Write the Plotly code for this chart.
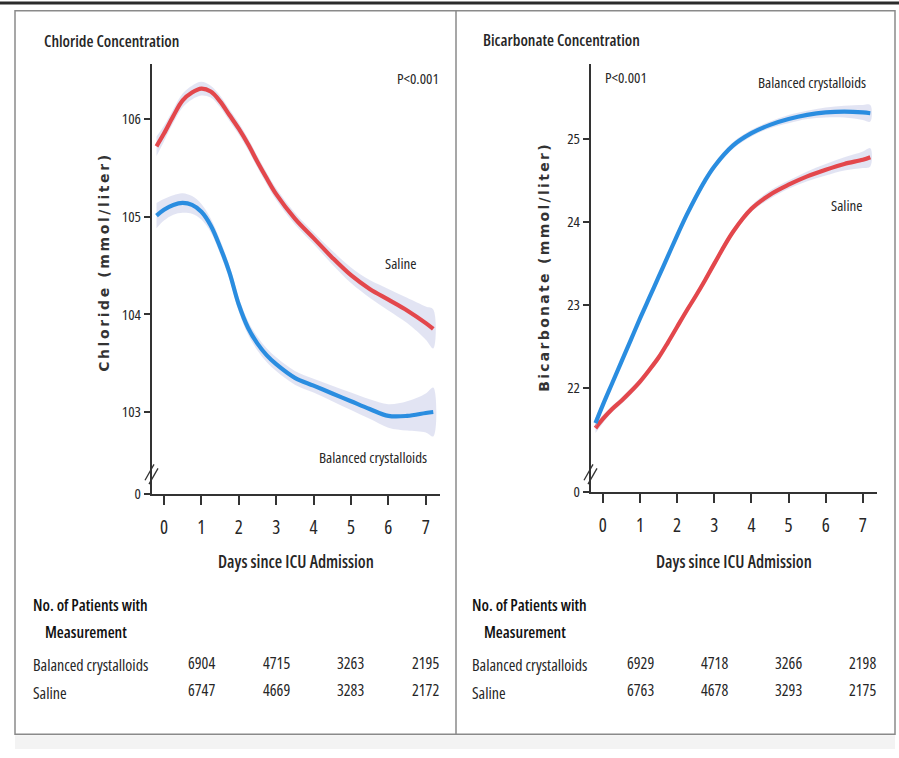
import plotly.graph_objects as go

# ---------------- data ----------------
days = [-0.2, 0, 0.25, 0.5, 0.75, 1.0, 1.25, 1.5, 1.75, 2.0, 2.25, 2.5, 2.75, 3.0, 3.5,
        4.0, 4.5, 5.0, 5.5, 6.0, 6.5, 7.0, 7.2]

chloride_saline = [105.72, 105.85, 106.03, 106.19, 106.27, 106.31, 106.28, 106.18,
                   106.04, 105.90, 105.74, 105.56, 105.39, 105.23, 104.98, 104.78, 104.58,
                   104.40, 104.26, 104.15, 104.04, 103.91, 103.85]
chloride_balanced = [105.01, 105.07, 105.12, 105.14, 105.12, 105.05, 104.91, 104.69,
                     104.43, 104.10, 103.86, 103.70, 103.58, 103.49, 103.35, 103.27, 103.19,
                     103.11, 103.03, 102.96, 102.96, 102.99, 103.00]
chloride_saline_ci = [0.10, 0.08, 0.07, 0.07, 0.07, 0.07, 0.06, 0.06, 0.06, 0.06, 0.06,
                      0.06, 0.06, 0.06, 0.06, 0.06, 0.07, 0.08, 0.09, 0.11, 0.13, 0.17,
                      0.20]
chloride_balanced_ci = [0.13, 0.11, 0.10, 0.10, 0.09, 0.08, 0.07, 0.07, 0.07, 0.07, 0.07,
                        0.07, 0.07, 0.07, 0.07, 0.07, 0.08, 0.09, 0.10, 0.12, 0.15, 0.20,
                        0.25]

bicarb_balanced = [21.58, 21.80, 22.06, 22.32, 22.58, 22.84, 23.09, 23.34, 23.59, 23.84,
                   24.08, 24.30, 24.50, 24.67, 24.92, 25.07, 25.17, 25.24, 25.29, 25.32,
                   25.33, 25.32, 25.31]
bicarb_saline = [21.52, 21.63, 21.75, 21.85, 21.96, 22.08, 22.22, 22.37, 22.55, 22.74,
                 22.93, 23.11, 23.30, 23.50, 23.88, 24.16, 24.33, 24.45, 24.55, 24.63,
                 24.70, 24.75, 24.78]
bicarb_balanced_ci = [0.06, 0.05, 0.04, 0.04, 0.04, 0.04, 0.04, 0.04, 0.04, 0.04, 0.04,
                      0.04, 0.04, 0.04, 0.04, 0.04, 0.04, 0.05, 0.05, 0.06, 0.07, 0.09,
                      0.10]
bicarb_saline_ci = [0.06, 0.05, 0.04, 0.04, 0.04, 0.04, 0.04, 0.04, 0.04, 0.04, 0.04,
                    0.04, 0.04, 0.04, 0.04, 0.04, 0.05, 0.05, 0.06, 0.07, 0.08, 0.10,
                    0.11]

x_ticks = [0, 1, 2, 3, 4, 5, 6, 7]
chloride_ticks = [103, 104, 105, 106]
bicarb_ticks = [22, 23, 24, 25]
chloride_axis_floor = 102.16   # shown as "0" (broken axis)
bicarb_axis_floor = 20.75      # shown as "0" (broken axis)

count_days = [1, 3, 5, 7]
chloride_n_balanced = [6904, 4715, 3263, 2195]
chloride_n_saline = [6747, 4669, 3283, 2172]
bicarb_n_balanced = [6929, 4718, 3266, 2198]
bicarb_n_saline = [6763, 4678, 3293, 2175]

# ---------------- styling ----------------
W, H = 899, 758
RED = "#e3474c"
BLUE = "#2a8de0"
BAND = "rgba(190,196,228,0.45)"
INK = "#262626"
FONT = "Open Sans, Liberation Sans, sans-serif"
BOLDY = "DejaVu Sans, Verdana, sans-serif"


def cond(s):
    return f'<span style="font-stretch:75%">{s}</span>'


def px(x):
    return x / W


def py(y):
    return 1 - y / H


fig = go.Figure()


def add_series(xa, ya, x, y, ci, color):
    upper = [v + c for v, c in zip(y, ci)]
    lower = [v - c for v, c in zip(y, ci)]
    fig.add_trace(go.Scatter(x=x + x[::-1], y=upper + lower[::-1], fill="toself",
                             fillcolor=BAND, line=dict(width=0, shape="spline"),
                             mode="lines", hoverinfo="skip", showlegend=False,
                             xaxis=xa, yaxis=ya))
    fig.add_trace(go.Scatter(x=x, y=y, mode="lines",
                             line=dict(color=color, width=4.2, shape="spline", smoothing=1.0),
                             showlegend=False, xaxis=xa, yaxis=ya))


add_series("x", "y", days, chloride_saline, chloride_saline_ci, RED)
add_series("x", "y", days, chloride_balanced, chloride_balanced_ci, BLUE)
add_series("x2", "y2", days, bicarb_saline, bicarb_saline_ci, RED)
add_series("x2", "y2", days, bicarb_balanced, bicarb_balanced_ci, BLUE)

axis_common = dict(showgrid=False, zeroline=False, showline=True, linecolor="#333",
                   linewidth=2, ticks="outside", tickcolor="#333", tickwidth=1.5,
                   fixedrange=True)
xfont = dict(family=FONT, size=19, color=INK)
yfont = dict(family=FONT, size=15, color=INK)
xtext = [cond(str(t)) for t in x_ticks]

fig.update_layout(
    width=W, height=H, margin=dict(l=0, r=0, t=0, b=0),
    paper_bgcolor="white", plot_bgcolor="rgba(0,0,0,0)",
    xaxis=dict(domain=[px(152), px(440)], range=[-0.32, 7.38], anchor="y",
               tickvals=x_ticks, ticktext=xtext, ticklen=9, ticklabelstandoff=6,
               tickfont=xfont, **axis_common),
    yaxis=dict(domain=[py(500), py(65)], range=[chloride_axis_floor, 106.56], anchor="x",
               tickvals=[chloride_axis_floor] + chloride_ticks,
               ticktext=[cond("0")] + [cond(str(t)) for t in chloride_ticks], ticklen=6,
               tickfont=yfont, **axis_common),
    xaxis2=dict(domain=[px(591), px(877)], range=[-0.32, 7.38], anchor="y2",
                tickvals=x_ticks, ticktext=xtext, ticklen=9, ticklabelstandoff=6,
                tickfont=xfont, **axis_common),
    yaxis2=dict(domain=[py(498), py(65)], range=[bicarb_axis_floor, 25.9], anchor="x2",
                tickvals=[bicarb_axis_floor] + bicarb_ticks,
                ticktext=[cond("0")] + [cond(str(t)) for t in bicarb_ticks], ticklen=6,
                tickfont=yfont, **axis_common),
)

ann = []


def text(x, y, s, size=14, anchor="left", bold=False, family=FONT, color=INK,
         xref="paper", angle=0, weight=None):
    f = dict(family=family, size=size, color=color)
    if weight:
        f["weight"] = weight
    ann.append(dict(x=x, y=y, xref=xref, yref="paper", text=(f"<b>{s}</b>" if bold else s),
                    showarrow=False, xanchor=anchor, yanchor="middle", textangle=angle,
                    font=f))


# panel titles
text(px(42), py(41), cond("Chloride Concentration"), size=16, weight=600)
text(px(481), py(40), cond("Bicarbonate Concentration"), size=16, weight=600)
# p-values & series labels
text(px(395), py(79), cond("P&lt;0.001"), size=15)
text(px(603), py(78), cond("P&lt;0.001"), size=15)
text(px(383), py(266), cond("Saline"), size=15)
text(px(317), py(462), cond("Balanced crystalloids"), size=15)
text(px(756), py(83), cond("Balanced crystalloids"), size=15)
text(px(829), py(207), cond("Saline"), size=15)
# axis titles
text(px(296), py(568), cond("Days since ICU Admission"), size=17, anchor="center",
     weight=600)
text(px(734), py(568), cond("Days since ICU Admission"), size=17, anchor="center",
     weight=600)
text(px(104), py(265), '<span style="letter-spacing:2.6px">Chloride (mmol/liter)</span>',
     size=14, bold=True, family=BOLDY, anchor="center", angle=-90, color="#333")
text(px(544), py(270), '<span style="letter-spacing:2.3px">Bicarbonate (mmol/liter)</span>',
     size=14, bold=True, family=BOLDY, anchor="center", angle=-90, color="#333")

# number-at-risk tables
for x0, x0b, xr, nb, ns in [(31, 43, "x", chloride_n_balanced, chloride_n_saline),
                             (470, 482, "x2", bicarb_n_balanced, bicarb_n_saline)]:
    text(px(x0), py(612), cond("No. of Patients with"), size=16, color="#111", weight=600)
    text(px(x0b), py(640), cond("Measurement"), size=16, color="#111", weight=600)
    text(px(x0), py(673), cond("Balanced crystalloids"), size=16)
    text(px(x0), py(701), cond("Saline"), size=16)
    for d, a, b in zip(count_days, nb, ns):
        text(d, py(671), cond(str(a)), size=16, anchor="center", xref=xr)
        text(d, py(698), cond(str(b)), size=16, anchor="center", xref=xr)

fig.update_layout(annotations=ann)

shapes = []
# frame
shapes.append(dict(type="line", xref="paper", yref="paper", x0=0, x1=1, y0=py(3), y1=py(3),
                   line=dict(color="#2b2b2b", width=3)))
shapes.append(dict(type="rect", xref="paper", yref="paper", x0=px(15), x1=px(895),
                   y0=py(743), y1=py(11), line=dict(color="#8a8a8a", width=1.5)))
shapes.append(dict(type="line", xref="paper", yref="paper", x0=px(456), x1=px(456),
                   y0=py(743), y1=py(11), line=dict(color="#8a8a8a", width=1.5)))
shapes.append(dict(type="rect", xref="paper", yref="paper", x0=px(15), x1=px(895),
                   y0=0, y1=py(744), fillcolor="#f3f3f3", line=dict(width=0), layer="below"))
# axis break marks
for xa in (152, 591):
    for dx in (-2, 2):
        shapes.append(dict(type="line", xref="paper", yref="paper",
                           x0=px(xa - 5 + dx), x1=px(xa + 4 + dx),
                           y0=py(488 + dx), y1=py(472 + dx),
                           line=dict(color="#333", width=1.3)))
fig.update_layout(shapes=shapes)

fig.write_html("out.html")
